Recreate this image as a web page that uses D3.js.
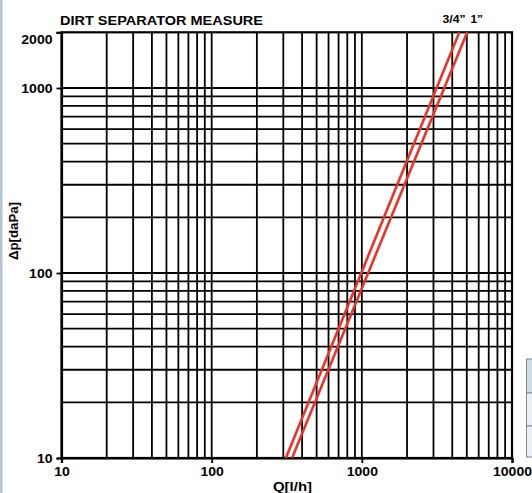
<!DOCTYPE html>
<html><head><meta charset="utf-8">
<script src="https://cdn.jsdelivr.net/npm/d3@7"></script>
<style>html,body{margin:0;padding:0;background:#fff;overflow:hidden}</style>
</head><body>
<svg id="c" width="532" height="493"></svg>
<script>
// ---- data ----
const title = "DIRT SEPARATOR MEASURE";
const xLabel = "Q[l/h]";
const yLabel = "\u0394p[daPa]";
const xTicks = [10, 100, 1000, 10000];
const yTicks = [10, 100, 1000, 2000];
const xGrid = [20,30,40,50,60,70,80,90,100,200,300,400,500,600,700,800,900,1000,2000,3000,4000,5000,6000,7000,8000,9000];
const yGrid = [20,30,40,50,60,70,80,90,100,200,300,400,500,600,700,800,900,1000];
const seriesNames = ["3/4\u201d", "1\u201d"];
const dpPoints = [10, 2000];           // Δp values of the line end points
const q34 = [312, 4460];               // Q for 3/4" at those Δp
const q1 = [343, 5030];                // Q for 1" at those Δp

const svg = d3.select("#c");
const W = 532, H = 493;
const x = d3.scaleLog().domain([10, 10000]).range([61.5, 512]);
const y = d3.scaleLog().domain([10, 2000]).range([458, 32.3]);
const font = "'Liberation Sans', Arial, sans-serif";

// left strip
svg.append("rect").attr("x",0).attr("y",0).attr("width",2.5).attr("height",H).attr("fill","#b3c5d1");

// partial table on right
const tbl = svg.append("g");
tbl.append("rect").attr("x",526.5).attr("y",359).attr("width",10).attr("height",34).attr("fill","#cfdce5").attr("stroke","#7d8a92").attr("stroke-width",1);
tbl.append("rect").attr("x",526.5).attr("y",393).attr("width",10).attr("height",33).attr("fill","#e9eff3").attr("stroke","#7d8a92").attr("stroke-width",1);
tbl.append("rect").attr("x",526.5).attr("y",426).attr("width",10).attr("height",31).attr("fill","#e9eff3").attr("stroke","#7d8a92").attr("stroke-width",1);

// grid
const g = svg.append("g");
g.selectAll("line.vx").data(xGrid).join("line")
  .attr("x1", d=>x(d)).attr("x2", d=>x(d)).attr("y1", y(2000)).attr("y2", y(10))
  .attr("stroke","#000").attr("stroke-width",1.8);
g.selectAll("line.hy").data(yGrid).join("line")
  .attr("y1", d=>y(d)).attr("y2", d=>y(d)).attr("x1", x(10)).attr("x2", x(10000))
  .attr("stroke","#000").attr("stroke-width",1.8);
// frame
g.append("rect").attr("x",x(10)).attr("y",y(2000)).attr("width",x(10000)-x(10)).attr("height",y(10)-y(2000))
  .attr("fill","none").attr("stroke","#000").attr("stroke-width",2.2);

// axes
const yAxis = d3.axisLeft(y).tickValues(yTicks).tickSize(5).tickFormat(d3.format("d"));
const xAxis = d3.axisBottom(x).tickValues(xTicks).tickSize(5).tickFormat(d3.format("d"));
const ya = svg.append("g").attr("transform",`translate(${x(10)},0)`).call(yAxis);
const xa = svg.append("g").attr("transform",`translate(0,${y(10)})`).call(xAxis);
[ya, xa].forEach(a => {
  a.select(".domain").attr("stroke","#000").attr("stroke-width",2.2);
  a.selectAll(".tick line").attr("stroke","#000").attr("stroke-width",1.8);
  a.selectAll(".tick text").attr("font-family",font).attr("font-weight","bold").attr("font-size",12).attr("fill","#000")
    .attr("lengthAdjust","spacingAndGlyphs").attr("textLength", function(){ return this.textContent.length*7.8; });
});
ya.selectAll(".tick text").attr("x",-9).attr("dy","0.36em");
ya.selectAll(".tick").filter(d=>d===2000).select("text").attr("dy","0.9em");
xa.selectAll(".tick text").attr("y",9).attr("dy","0.71em");

// red lines
const line = d3.line().x(d=>x(d[0])).y(d=>y(d[1]));
const series = [q34, q1].map(qs => qs.map((q,i)=>[q, dpPoints[i]]));
svg.append("g").selectAll("path").data(series).join("path")
  .attr("d", line).attr("fill","none").attr("stroke","#ee3228").attr("stroke-width",2.6);

// series labels
svg.append("text").attr("x",442.5).attr("y",22.5).text(seriesNames[0])
  .attr("font-family",font).attr("font-weight","bold").attr("font-size",10)
  .attr("textLength",23).attr("lengthAdjust","spacingAndGlyphs");
svg.append("text").attr("x",470.5).attr("y",22.5).text(seriesNames[1])
  .attr("font-family",font).attr("font-weight","bold").attr("font-size",10)
  .attr("textLength",12.5).attr("lengthAdjust","spacingAndGlyphs");

// title
svg.append("text").attr("x",60).attr("y",24.5).text(title)
  .attr("font-family",font).attr("font-weight","bold").attr("font-size",13)
  .attr("textLength",203).attr("lengthAdjust","spacingAndGlyphs");

// axis titles
svg.append("text").attr("x",273).attr("y",491).text(xLabel)
  .attr("font-family",font).attr("font-weight","bold").attr("font-size",12.5)
  .attr("textLength",39).attr("lengthAdjust","spacingAndGlyphs");
svg.append("text").attr("transform","translate(18,231) rotate(-90)").attr("text-anchor","middle").text(yLabel)
  .attr("font-family",font).attr("font-weight","bold").attr("font-size",12)
  .attr("textLength",58).attr("lengthAdjust","spacingAndGlyphs");
</script>
</body></html>
